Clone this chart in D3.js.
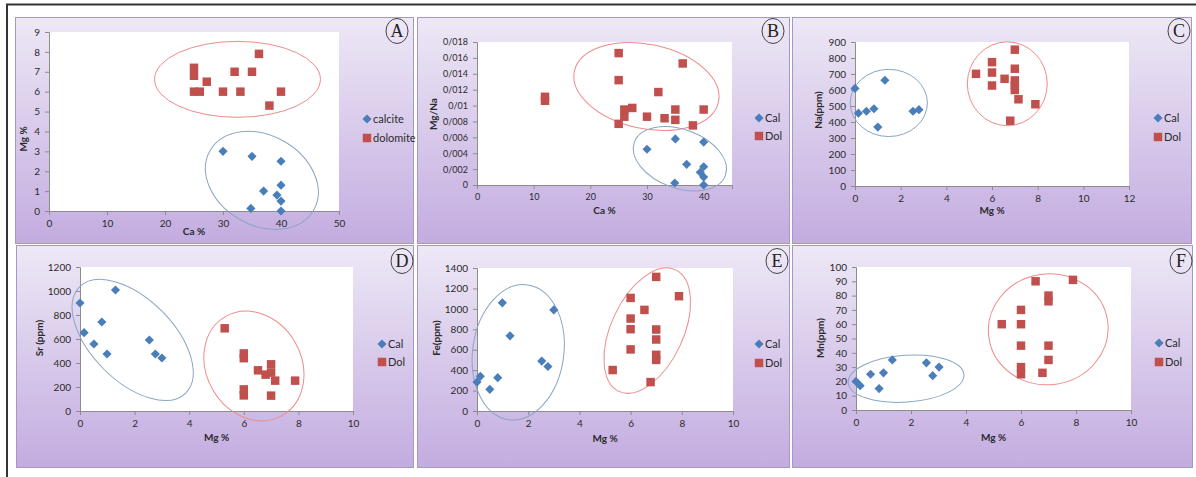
<!DOCTYPE html>
<html>
<head>
<meta charset="utf-8">
<script src="https://cdn.jsdelivr.net/npm/d3@7"></script>
<style>
  body { margin: 0; background: #fff; }
  svg { display: block; font-family: Lato, 'Open Sans', sans-serif; }
</style>
</head>
<body>
<svg id="chart" width="1196" height="477"></svg>
<script>
// ---- data ----
// A: Mg % vs Ca %
const calciteA = [[30, 3], [35, 2.75], [40, 2.5], [40, 1.3], [37, 1], [39.3, 0.8], [40, 0.5], [34.8, 0.13], [40, 0]];
const dolomiteA = [[25, 7.2], [25, 6.8], [25, 6], [26, 6], [27.2, 6.5], [30, 6], [32, 7], [33, 6], [35, 7], [36.2, 7.9], [38, 5.3], [40, 6]];
// B: Mg/Na vs Ca %
const calB = [[30, 0.0045], [35, 0.0058], [40, 0.0054], [37, 0.0026], [40, 0.0023], [39.4, 0.0016], [40, 0.001], [34.9, 0.00025], [40, 0]];
const dolB = [[12, 0.0111], [12, 0.0106], [25, 0.0166], [25, 0.0132], [25, 0.0077], [26, 0.0095], [26, 0.0086], [27.4, 0.0097],
  [30, 0.0086], [32, 0.0117], [33.1, 0.0084], [35, 0.0095], [35, 0.0082], [36.3, 0.0153], [38.1, 0.0075], [40, 0.0095]];
// C: Na(ppm) vs Mg %
const calC = [[0, 610], [0.15, 455], [0.5, 467], [0.83, 483], [1, 368], [1.31, 661], [2.54, 467], [2.8, 477]];
const dolC = [[5.3, 701], [6, 774], [6, 709], [6, 628], [6.55, 670], [7, 852], [7, 733], [7, 660], [7, 630], [7, 600],
  [7.16, 542], [7.9, 511], [6.8, 408]];
// D: Sr (ppm) vs Mg %
const calD = [[0, 900], [0.15, 653], [0.51, 558], [0.8, 742], [0.99, 475], [1.3, 1008], [2.54, 592], [2.76, 475], [3, 442]];
const dolD = [[5.3, 689], [6, 480], [6, 440], [6, 180], [6, 130], [6.52, 339], [6.8, 303], [7, 389], [7, 320], [7.15, 253], [7, 128], [7.88, 253]];
// E: Fe(ppm) vs Mg %
const calE = [[0, 283], [0.13, 339], [0.5, 212], [0.81, 326], [0.99, 1059], [1.29, 736], [2.53, 489], [2.77, 436], [3, 990]];
const dolE = [[5.3, 401], [6, 1107], [6, 905], [6, 801], [6, 603], [6.54, 990], [7, 1313], [7, 798], [7, 700], [7, 550], [7, 500],
  [6.78, 283], [7.89, 1124]];
// F: Mn(ppm) vs Mg %
const calF = [[0, 20], [0.15, 17], [0.53, 25], [0.84, 15], [1, 26], [1.32, 35], [2.56, 33], [2.79, 24], [3.02, 30]];
const dolF = [[5.3, 60], [6, 70], [6, 60], [6, 45], [6, 30], [6, 25], [6.53, 90], [7, 80], [7, 76], [7, 45], [7, 35], [6.78, 26], [7.89, 91]];

// hand-drawn grouping ellipses: centre and radii in data units, tilt in degrees
const ringsA = [{ cx: 32.5, cy: 6.62, rx: 14.3, ry: 1.91, rot: 0, kind: 'dol' }, { cx: 36.7, cy: 1.54, rx: 10.3, ry: 2.26, rot: 30, kind: 'cal' }];
const ringsB = [{ cx: 29.9, cy: 0.0124, rx: 13.0, ry: 0.0053, rot: 12, kind: 'dol' }, { cx: 35.8, cy: 0.0033, rx: 8.55, ry: 0.0037, rot: 20, kind: 'cal' }];
const ringsC = [{ cx: 1.48, cy: 519, rx: 1.69, ry: 210, rot: 0, kind: 'cal' }, { cx: 6.67, cy: 639, rx: 1.75, ry: 262, rot: 0, kind: 'dol' }];
const ringsD = [{ cx: 1.93, cy: 592, rx: 2.75, ry: 342, rot: 45, kind: 'cal' }, { cx: 6.37, cy: 375, rx: 1.74, ry: 475, rot: -30, kind: 'dol' }];
const ringsE = [{ cx: 1.61, cy: 575, rx: 1.78, ry: 666, rot: 8, kind: 'cal' }, { cx: 6.65, cy: 787, rx: 1.41, ry: 656, rot: 25, kind: 'dol' }];
const ringsF = [{ cx: 1.82, cy: 21.9, rx: 2.11, ry: 16.4, rot: -4, kind: 'cal' }, { cx: 6.99, cy: 56.4, rx: 2.18, ry: 38.7, rot: -8, kind: 'dol' }];

const ticksCa50 = [0, 10, 20, 30, 40, 50];
const ticksCa45 = [0, 10, 20, 30, 40];
const ticksMg12 = [0, 2, 4, 6, 8, 10, 12];
const ticksMg10 = [0, 2, 4, 6, 8, 10];
const ticksA = d3.range(0, 10);
const ticksB = [0, 0.002, 0.004, 0.006, 0.008, 0.01, 0.012, 0.014, 0.016, 0.018];
const ticksC = d3.range(0, 1000, 100);
const ticksD = d3.range(0, 1400, 200);
const ticksE = d3.range(0, 1600, 200);
const ticksF = d3.range(0, 110, 10);

// the source uses "/" as decimal mark and drops trailing zeros (0/01)
const fmtB = d => d === 0 ? '0' : d3.format('.3~f')(d).replace('.', '/');

const panels = [
  { letter: 'A', box: [15, 17, 398, 226], plot: [49, 32, 339, 211], xDom: [0, 50], yDom: [0, 9], xt: ticksCa50, yt: ticksA,
    xTitle: 'Ca %', yTitle: 'Mg %', xTitleY: 235, yTitleX: 23, yTitleY: 139, names: ['calcite', 'dolomite'], leg: [367, 119, 138],
    cal: calciteA, dol: dolomiteA, rings: ringsA, mark: [397, 31], fs: 10 },
  { letter: 'B', box: [417, 17, 372, 226], plot: [477, 42, 732, 185], xDom: [0, 45], yDom: [0, 0.018], xt: ticksCa45, yt: ticksB, yFmt: fmtB,
    xTitle: 'Ca %', yTitle: 'Mg/Na', xTitleY: 214, yTitleX: 433, yTitleY: 114, names: ['Cal', 'Dol'], leg: [759, 118, 136],
    cal: calB, dol: dolB, rings: ringsB, mark: [773, 31], fs: 9 },
  { letter: 'C', box: [792, 17, 399, 226], plot: [855, 42, 1129, 186], xDom: [0, 12], yDom: [0, 900], xt: ticksMg12, yt: ticksC,
    xTitle: 'Mg %', yTitle: 'Na(ppm)', xTitleY: 214, yTitleX: 818, yTitleY: 110, names: ['Cal', 'Dol'], leg: [1158, 118, 137],
    cal: calC, dol: dolC, rings: ringsC, mark: [1179, 31], fs: 10 },
  { letter: 'D', box: [16, 245, 397, 222], plot: [80, 267, 353, 411], xDom: [0, 10], yDom: [0, 1200], xt: ticksMg10, yt: ticksD,
    xTitle: 'Mg %', yTitle: 'Sr (ppm)', xTitleY: 441, yTitleX: 39, yTitleY: 338, names: ['Cal', 'Dol'], leg: [382, 344, 362],
    cal: calD, dol: dolD, rings: ringsD, mark: [402, 261], fs: 10 },
  { letter: 'E', box: [417, 245, 372, 222], plot: [477, 268, 733, 411], xDom: [0, 10], yDom: [0, 1400], xt: ticksMg10, yt: ticksE,
    xTitle: 'Mg %', yTitle: 'Fe(ppm)', xTitleY: 442, yTitleX: 436, yTitleY: 338, names: ['Cal', 'Dol'], leg: [759, 344, 363],
    cal: calE, dol: dolE, rings: ringsE, mark: [777, 261], fs: 10 },
  { letter: 'F', box: [792, 245, 400, 222], plot: [856, 267, 1131, 410], xDom: [0, 10], yDom: [0, 100], xt: ticksMg10, yt: ticksF,
    xTitle: 'Mg %', yTitle: 'Mn(ppm)', xTitleY: 441, yTitleX: 820, yTitleY: 338, names: ['Cal', 'Dol'], leg: [1159, 343, 362],
    cal: calF, dol: dolF, rings: ringsF, mark: [1181, 261], fs: 10 }
];

const blue = '#4a7ebb', red = '#c0504d';
const ringColor = { cal: '#8aa6c4', dol: '#ef8b8b' };
const diamond = d3.symbol(d3.symbolSquare, 42)();
const square = d3.symbol(d3.symbolSquare, 72)();

const svg = d3.select('#chart');

const grad = svg.append('defs').append('linearGradient')
  .attr('id', 'panelFill').attr('x1', 0).attr('y1', 0).attr('x2', 0).attr('y2', 1);
grad.append('stop').attr('offset', '0%').attr('stop-color', '#eee8f6');
grad.append('stop').attr('offset', '100%').attr('stop-color', '#c3ace0');

// frame lines of the figure
svg.append('line').attr('x1', 6).attr('x2', 1196).attr('y1', 4.5).attr('y2', 4.5).attr('stroke', '#333').attr('stroke-width', 2);
svg.append('line').attr('x1', 7).attr('x2', 7).attr('y1', 4).attr('y2', 477).attr('stroke', '#333').attr('stroke-width', 2);

panels.forEach(p => {
  const g = svg.append('g');
  const [bx, by, bw, bh] = p.box;
  const [l, t, r, b] = p.plot;

  g.append('rect').attr('x', bx + 0.5).attr('y', by + 0.5).attr('width', bw).attr('height', bh)
    .attr('fill', 'url(#panelFill)').attr('stroke', '#a597c6');

  g.append('rect').attr('x', l).attr('y', t).attr('width', r - l).attr('height', b - t).attr('fill', '#fff');

  const x = d3.scaleLinear().domain(p.xDom).range([l, r]);
  const y = d3.scaleLinear().domain(p.yDom).range([b, t]);

  const xAxis = g.append('g').attr('transform', `translate(0,${b})`)
    .call(d3.axisBottom(x).tickValues(p.xt).tickSize(4).tickPadding(5).tickFormat(d3.format('d')));
  const yAxis = g.append('g').attr('transform', `translate(${l},0)`)
    .call(d3.axisLeft(y).tickValues(p.yt).tickSize(4).tickPadding(5).tickFormat(p.yFmt || d3.format('d')));
  [xAxis, yAxis].forEach(a => {
    a.select('.domain').attr('stroke', '#8c8c8c');
    a.selectAll('.tick line').attr('stroke', '#8c8c8c');
    a.selectAll('text').attr('fill', '#2b2b2b').style('font-size', p.fs + 'px').style('font-family', 'Lato, sans-serif');
  });

  // grouping ellipses
  g.selectAll('.ring').data(p.rings).join('ellipse')
    .attr('class', 'ring')
    .attr('transform', d => `translate(${x(d.cx)},${y(d.cy)}) rotate(${d.rot})`)
    .attr('rx', d => x(d.rx) - x(0))
    .attr('ry', d => y(0) - y(d.ry))
    .attr('fill', 'none')
    .attr('stroke', d => ringColor[d.kind])
    .attr('stroke-width', 1);

  g.selectAll('.cal').data(p.cal).join('path')
    .attr('class', 'cal')
    .attr('d', diamond)
    .attr('transform', d => `translate(${x(d[0])},${y(d[1])}) rotate(45)`)
    .attr('fill', blue);

  g.selectAll('.dol').data(p.dol).join('path')
    .attr('class', 'dol')
    .attr('d', square)
    .attr('transform', d => `translate(${x(d[0])},${y(d[1])})`)
    .attr('fill', red);

  // axis titles
  g.append('text').attr('x', (l + r) / 2).attr('y', p.xTitleY).attr('text-anchor', 'middle')
    .attr('font-size', 10).attr('font-weight', 'bold').attr('fill', '#2b2b2b').text(p.xTitle);
  g.append('text').attr('transform', `translate(${p.yTitleX},${p.yTitleY}) rotate(-90)`).attr('text-anchor', 'middle')
    .attr('dy', '0.35em').attr('font-size', 10).attr('font-weight', 'bold').attr('fill', '#2b2b2b').text(p.yTitle);

  // legend
  const [lx, ly1, ly2] = p.leg;
  g.append('path').attr('d', diamond).attr('transform', `translate(${lx},${ly1}) rotate(45)`).attr('fill', blue);
  g.append('path').attr('d', square).attr('transform', `translate(${lx},${ly2})`).attr('fill', red);
  g.append('text').attr('x', lx + 6).attr('y', ly1).attr('dy', '0.35em').attr('font-size', 11).attr('fill', '#2b2b2b').text(p.names[0]);
  g.append('text').attr('x', lx + 6).attr('y', ly2).attr('dy', '0.35em').attr('font-size', 11).attr('fill', '#2b2b2b').text(p.names[1]);

  // circled panel letter
  g.append('ellipse').attr('cx', p.mark[0]).attr('cy', p.mark[1]).attr('rx', 11).attr('ry', 12.5)
    .attr('fill', 'none').attr('stroke', '#444').attr('stroke-width', 1);
  g.append('text').attr('x', p.mark[0]).attr('y', p.mark[1]).attr('dy', '0.36em').attr('text-anchor', 'middle')
    .attr('font-family', "'Liberation Serif', serif").attr('font-size', 18).attr('fill', '#222').text(p.letter);
});
</script>
</body>
</html>
